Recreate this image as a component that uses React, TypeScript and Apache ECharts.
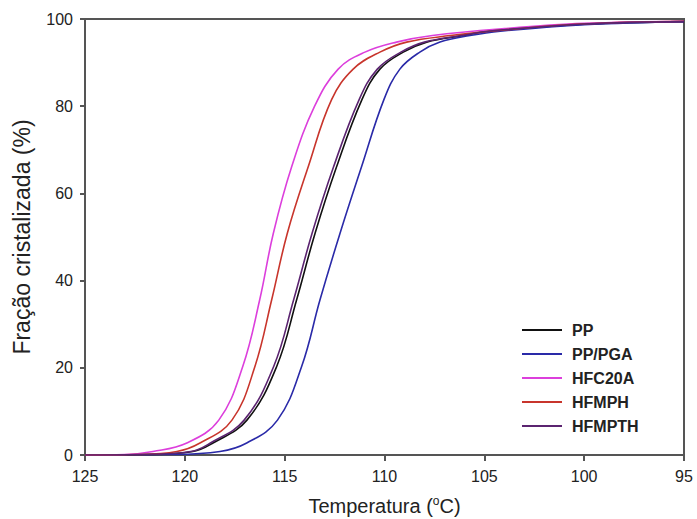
import React, { useEffect, useRef } from "react";
import * as echarts from "echarts";

const seriesNames = ["PP", "PP/PGA", "HFC20A", "HFMPH", "HFMPTH"];
const seriesColors = ["#111111", "#2a2aa8", "#dc3fdc", "#c8352c", "#5b2470"];

// [temperature °C, crystallized fraction %]
const ppData: number[][] = [
  [125, 0], [122, 0.1], [119.6, 0.8], [118.59, 2.75], [116.89, 8], [115.4, 20.3],
  [114.4, 35.6], [113.48, 50.8], [112.4, 66.1], [111.13, 81.5], [110.23, 88.5],
  [109.06, 92.4], [107.89, 94.7], [106.07, 96.2], [104.7, 97.2], [100, 98.8], [95, 99.4],
];
const ppPgaData: number[][] = [
  [125, 0], [120.8, 0.1], [118.24, 0.8], [116.9, 2.75], [115.36, 8], [114.15, 20.3],
  [113.23, 35.6], [112.23, 50.8], [111.15, 66.1], [110.03, 81.5], [109.23, 88.5],
  [108.23, 92.4], [107.22, 94.7], [105.72, 96.2], [104.2, 97.2], [100, 98.7], [95, 99.4],
];
const hfc20aData: number[][] = [
  [125, 0], [123, 0.1], [121.6, 0.8], [119.9, 2.75], [118.3, 8], [117.1, 20.3],
  [116.25, 35.6], [115.57, 50.8], [114.65, 66.1], [113.5, 80], [112.32, 88.5],
  [110.98, 92.4], [109.4, 94.7], [107.6, 96.2], [104, 97.8], [100, 99], [95, 99.5],
];
const hfmphData: number[][] = [
  [125, 0], [122.5, 0.1], [120.4, 0.8], [119.24, 2.75], [117.64, 8], [116.49, 20.3],
  [115.65, 35.6], [114.87, 50.8], [113.82, 66.1], [112.65, 81.5], [111.57, 88.5],
  [110.23, 92.4], [108.89, 94.7], [106.7, 96.2], [104, 97.5], [100, 98.9], [95, 99.5],
];
const hfmpthData: number[][] = [
  [125, 0], [122.2, 0.1], [119.7, 0.8], [118.72, 2.75], [117.03, 8], [115.55, 20.3],
  [114.55, 35.6], [113.63, 50.8], [112.55, 66.1], [111.27, 81.5], [110.36, 88.5],
  [109.18, 92.4], [108.0, 94.7], [106.15, 96.2], [104.7, 97.25], [100, 98.85], [95, 99.4],
];
const allData = [ppData, ppPgaData, hfc20aData, hfmphData, hfmpthData];

const xTicks = { min: 95, max: 125, interval: 5 };
const yTicks = { min: 0, max: 100, interval: 20 };

const FONT = "Liberation Sans, Arial, sans-serif";

export default function App() {
  const ref = useRef<HTMLDivElement>(null);
  useEffect(() => {
    document.body.style.margin = "0";
    if (!ref.current) return;
    const chart = echarts.init(ref.current, undefined, { renderer: "svg" });
    chart.setOption({
      animation: false,
      backgroundColor: "#ffffff",
      grid: {
        left: 85, right: 13, top: 19, bottom: 64,
        outerBoundsMode: "none",
        containLabel: false,
        show: true, borderColor: "#555555", borderWidth: 2, backgroundColor: "transparent",
      },
      legend: {
        data: seriesNames,
        orient: "vertical",
        left: 522,
        top: 322,
        padding: 0,
        itemWidth: 40,
        itemHeight: 2,
        itemGap: 8,
        icon: "rect",
        textStyle: { fontFamily: FONT, fontSize: 16, fontWeight: "bold", color: "#222", padding: [0, 0, 0, 5] },
      },
      xAxis: {
        type: "value",
        inverse: true,
        min: xTicks.min, max: xTicks.max, interval: xTicks.interval,
        name: "Temperatura ({sup|o}C)",
        nameLocation: "middle",
        nameGap: 40,
        nameTextStyle: {
          fontFamily: FONT, fontSize: 20, color: "#222",
          rich: { sup: { fontFamily: FONT, fontSize: 12, color: "#222", verticalAlign: "top", padding: [0, 0, 9, 0] } },
        },
        axisLine: { show: true, lineStyle: { color: "#555", width: 2 } },
        axisTick: { show: true, inside: false, length: 6, lineStyle: { color: "#555", width: 2 } },
        axisLabel: { fontFamily: FONT, fontSize: 16, color: "#222", margin: 13 },
        splitLine: { show: false },
      },
      yAxis: {
        type: "value",
        min: yTicks.min, max: yTicks.max, interval: yTicks.interval,
        name: "Fração cristalizada (%)",
        nameLocation: "middle",
        nameGap: 52,
        nameTextStyle: { fontFamily: FONT, fontSize: 23, color: "#222" },
        axisLine: { show: true, lineStyle: { color: "#555", width: 2 } },
        axisTick: { show: true, inside: false, length: 5, lineStyle: { color: "#555", width: 2 } },
        axisLabel: { fontFamily: FONT, fontSize: 16, color: "#222", margin: 12 },
        splitLine: { show: false },
      },
      series: seriesNames.map((name, i) => ({
        name,
        type: "line",
        data: allData[i],
        showSymbol: false,
        smooth: 0.4,
        color: seriesColors[i],
        lineStyle: { width: 1.6, color: seriesColors[i] },
      })),
    });
    return () => chart.dispose();
  }, []);
  return <div ref={ref} style={{ width: 697, height: 519 }} />;
}
